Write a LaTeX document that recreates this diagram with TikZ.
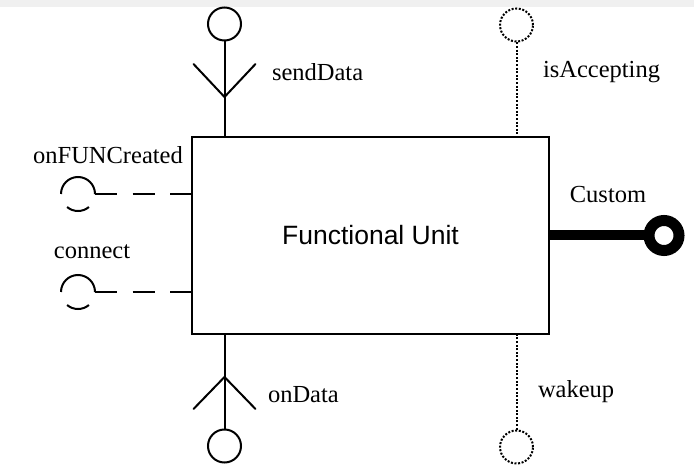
\documentclass[tikz,border=0pt]{standalone}
\usepackage{fontspec}
\setmainfont{Liberation Serif}
\newfontfamily\unitfont{Liberation Sans}
\begin{document}
\begin{tikzpicture}[x=1pt,y=1pt,line width=2pt,
  lbl/.style={font=\fontsize{24.5}{27}\selectfont, inner sep=0pt},
  endball/.style={circle, draw, minimum size=33pt, inner sep=0pt},
  dotline/.style={dash pattern=on 2pt off 1.6pt},
  dashline/.style={dash pattern=on 22pt off 15.5pt},
  arm/.style={line cap=round}]
  % canvas and the pale strip along the top edge
  \path[use as bounding box, fill=white] (0,0) rectangle (694,464);
  \fill[black!6] (0,457) rectangle (694,464);

  % the unit itself
  \node[draw, minimum width=357pt, minimum height=197pt, inner sep=0pt,
        font=\unitfont\fontsize{26.5}{30}\selectfont] (fu) at (370.5,228.5) {Functional Unit};

  % sendData: required data port on top
  \node[endball] (sdEnd) at (224.5,440) {};
  \coordinate (sdV) at (224.5,367);
  \draw (sdEnd.south) -- (sdEnd.south |- fu.north);
  \draw[arm] ([shift={(-31,33)}]sdV) -- (sdV) -- ([shift={(31,33)}]sdV);
  \node[lbl, anchor=west] (sdLbl) at (271,392) {sendData};

  % onData: provided data port below
  \node[endball] (odEnd) at (224.5,18) {};
  \coordinate (odV) at (224.5,87);
  \draw (odEnd.north) -- (odEnd.north |- fu.south);
  \draw[arm] ([shift={(-31,-32)}]odV) -- (odV) -- ([shift={(31,-32)}]odV);
  \node[lbl, anchor=west] (odLbl) at (267,69) {onData};

  % isAccepting and wakeup: optional signals, dotted
  \node[endball, dotline] (iaEnd) at (516.5,439) {};
  \draw[dotline] (iaEnd.south) -- (iaEnd.south |- fu.north);
  \node[lbl, anchor=west] (iaLbl) at (542,392) {isAccepting};

  \node[endball, dotline] (wuEnd) at (516.5,17) {};
  \draw[dotline] (wuEnd.north) -- (wuEnd.north |- fu.south);
  \node[lbl, anchor=west] (wuLbl) at (537,72) {wakeup};

  % onFUNCreated and connect: sockets on the left, dashed
  \coordinate (sk1) at (78,270);
  \coordinate (sk2) at (78,172);
  \coordinate (sk1e) at (95,270);
  \coordinate (sk2e) at (95,172);
  \foreach \s in {sk1,sk2}{
    \draw ([xshift=17pt]\s) arc[start angle=0, end angle=180, radius=17pt];
    \draw ([shift={(230:17pt)}]\s) arc[start angle=230, end angle=310, radius=17pt];
  }
  \draw[dashline] (sk1e) -- (sk1e -| fu.west);
  \draw[dashline] (sk2e) -- (sk2e -| fu.west);
  \node[lbl] (ocLbl) at (108,309) {onFUNCreated};
  \node[lbl] (cnLbl) at (92,212) {connect};

  % Custom: heavy port on the right
  \node[circle, draw, line width=11pt, minimum size=30pt, inner sep=0pt] (cuEnd) at (664,228.5) {};
  \draw[line width=10pt] (fu.east) -- (cuEnd.west);
  \node[lbl] (cuLbl) at (608,269) {Custom};
\end{tikzpicture}
\end{document}
